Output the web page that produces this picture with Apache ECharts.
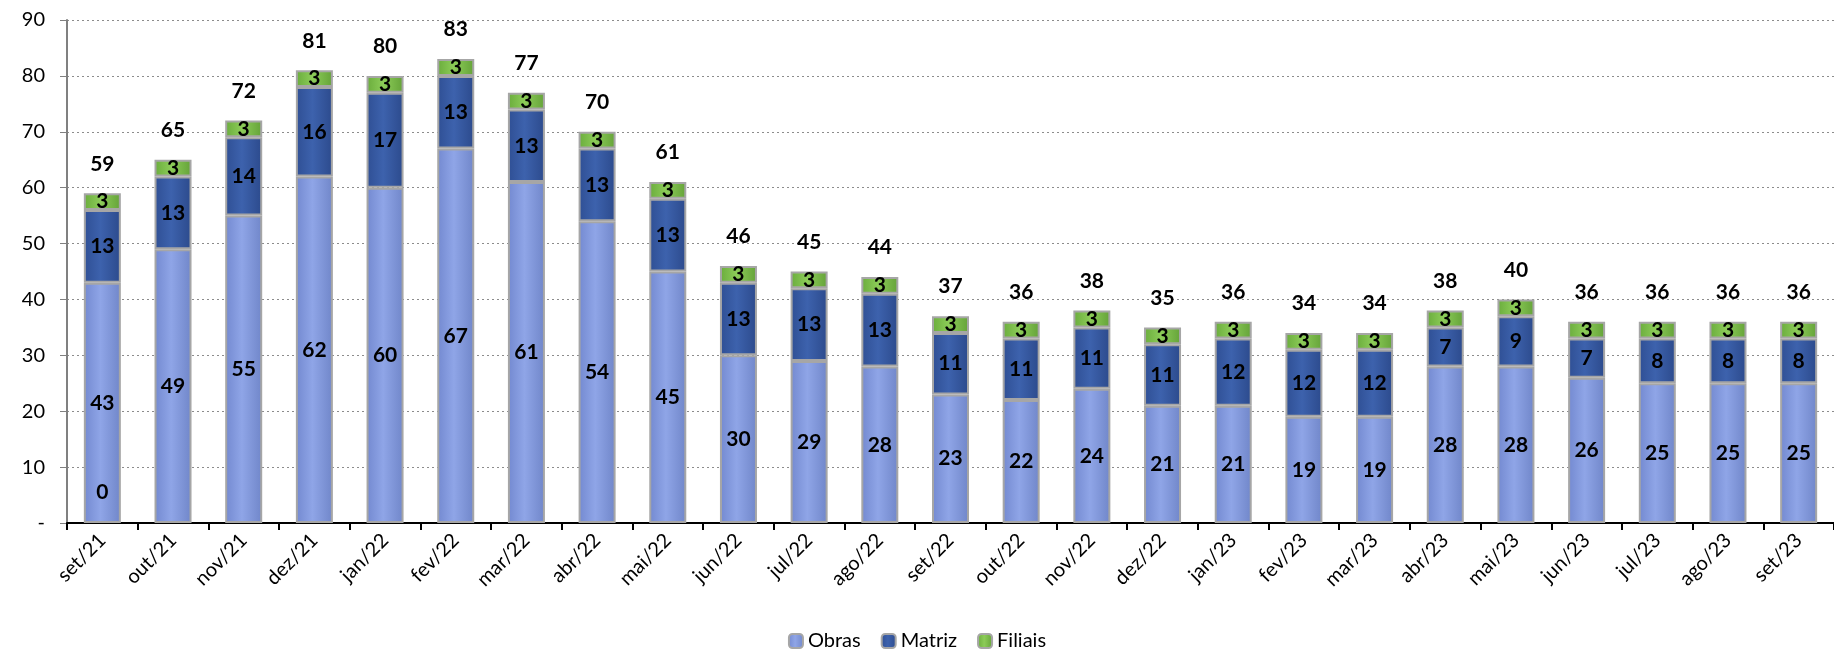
<!DOCTYPE html>
<html>
<head>
<meta charset="utf-8">
<script src="https://cdn.jsdelivr.net/npm/echarts@6/dist/echarts.min.js"></script>
<style>
	html, body { margin: 0; padding: 0; background: #fff; }
	#main { width: 1834px; height: 658px; }
</style>
</head>
<body>
<div id="main"></div>
<script>
	var months = ['set/21', 'out/21', 'nov/21', 'dez/21', 'jan/22', 'fev/22', 'mar/22', 'abr/22', 'mai/22',
		'jun/22', 'jul/22', 'ago/22', 'set/22', 'out/22', 'nov/22', 'dez/22', 'jan/23', 'fev/23', 'mar/23',
		'abr/23', 'mai/23', 'jun/23', 'jul/23', 'ago/23', 'set/23'];
	var obras = [43, 49, 55, 62, 60, 67, 61, 54, 45, 30, 29, 28, 23, 22, 24, 21, 21, 19, 19, 28, 28, 26, 25, 25, 25];
	var matriz = [13, 13, 14, 16, 17, 13, 13, 13, 13, 13, 13, 13, 11, 11, 11, 11, 12, 12, 12, 7, 9, 7, 8, 8, 8];
	var filiais = [3, 3, 3, 3, 3, 3, 3, 3, 3, 3, 3, 3, 3, 3, 3, 3, 3, 3, 3, 3, 3, 3, 3, 3, 3];
	var totais = [59, 65, 72, 81, 80, 83, 77, 70, 61, 46, 45, 44, 37, 36, 38, 35, 36, 34, 34, 38, 40, 36, 36, 36, 36];
	// stray "0" label that sits in the first bar
	var zeroLabel = [0];

	var FONT = 'Lato, "Open Sans", sans-serif';

	function grad(l, m, r) {
		return new echarts.graphic.LinearGradient(0, 0, 1, 0, [
			{offset: 0, color: l},
			{offset: 0.45, color: m},
			{offset: 1, color: r}
		]);
	}

	var lbl = {
		show: true,
		position: 'inside',
		color: '#000',
		fontFamily: FONT,
		fontWeight: 'bold',
		fontSize: 21
	};

	var chart = echarts.init(document.getElementById('main'));

	var option = {
		animation: false,
		legend: {
			bottom: 2,
			left: 'center',
			itemWidth: 14,
			itemHeight: 14,
			itemGap: 20,
			textStyle: {fontFamily: FONT, fontSize: 20, color: '#000'},
			data: ['Obras', 'Matriz', 'Filiais']
		},
		grid: {
			left: 67,
			top: 20,
			width: 1776,
			bottom: 135
		},
		xAxis: {
			type: 'category',
			data: months,
			axisLine: {lineStyle: {color: '#000', width: 2}},
			axisTick: {show: true, length: 7, lineStyle: {color: '#000', width: 2}},
			axisLabel: {
				rotate: 45,
				margin: 14,
				color: '#000',
				fontFamily: FONT,
				fontSize: 20
			}
		},
		yAxis: {
			type: 'value',
			min: 0,
			max: 90,
			interval: 10,
			axisLine: {show: true, lineStyle: {color: '#808080', width: 2}},
			axisTick: {show: true, length: 7, lineStyle: {color: '#808080'}},
			axisLabel: {
				margin: 22,
				color: '#000',
				fontFamily: FONT,
				fontSize: 20,
				formatter: function (v) { return v === 0 ? '-' : v; }
			},
			splitLine: {lineStyle: {color: '#8c8c8c', type: [2, 3], width: 1}}
		},
		series: [
			{
				name: 'Obras',
				type: 'bar',
				stack: 'total',
				barWidth: 37,
				barGap: '-100%',
				data: obras,
				itemStyle: {color: grad('#7389d0', '#8fa5e7', '#7086c9'), borderColor: '#a6a6a6', borderWidth: 2},
				label: lbl,
				markPoint: {
					silent: true,
					symbol: 'rect',
					symbolSize: 1,
					itemStyle: {color: 'rgba(0,0,0,0)'},
					label: {
						show: true,
						position: 'top',
						distance: 20,
						color: '#000',
						fontFamily: FONT,
						fontWeight: 'bold',
						fontSize: 21,
						formatter: function (p) { return p.value; }
					},
					data: zeroLabel.map(function (v, i) { return {coord: [i, v], value: v}; })
				}
			},
			{
				name: 'Matriz',
				type: 'bar',
				stack: 'total',
				data: matriz,
				itemStyle: {color: grad('#2f4f94', '#3d62ad', '#2c4a8c'), borderColor: '#a6a6a6', borderWidth: 2},
				label: lbl
			},
			{
				name: 'Filiais',
				type: 'bar',
				stack: 'total',
				data: filiais,
				itemStyle: {color: grad('#6aac3c', '#8ccc58', '#64a238'), borderColor: '#a6a6a6', borderWidth: 2},
				label: lbl
			},
			{
				name: 'Total',
				type: 'bar',
				barWidth: 37,
				barGap: '-100%',
				silent: true,
				z: 1,
				data: totais,
				itemStyle: {color: 'rgba(0,0,0,0)'},
				label: {
					show: true,
					position: 'top',
					distance: 19,
					color: '#000',
					fontFamily: FONT,
					fontWeight: 'bold',
					fontSize: 21
				}
			}
		]
	};

	chart.setOption(option);
</script>
</body>
</html>
